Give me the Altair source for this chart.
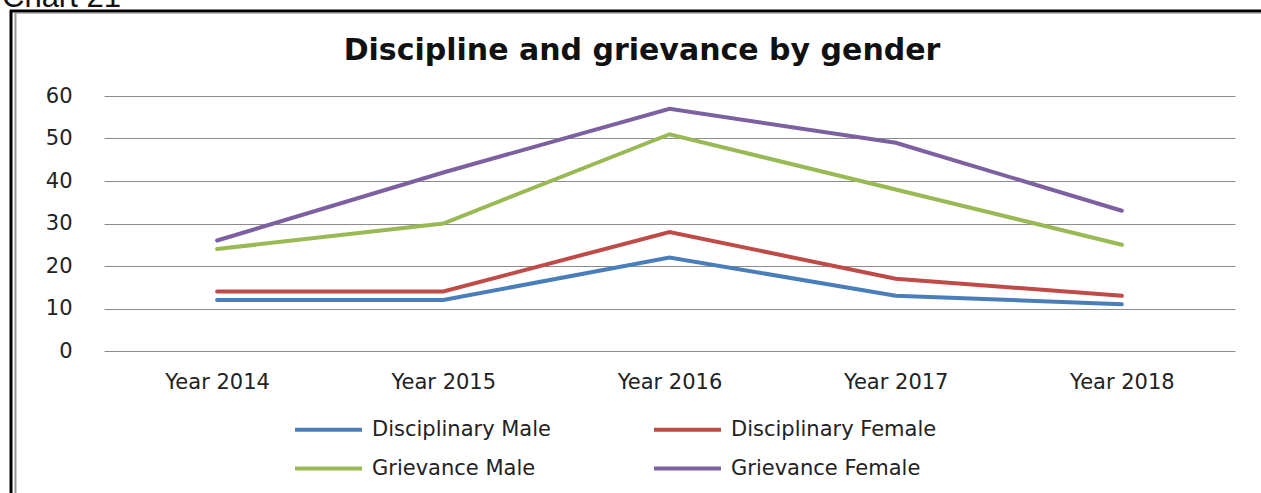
import altair as alt
import pandas as pd

years = ["Year 2014", "Year 2015", "Year 2016", "Year 2017", "Year 2018"]
series_names = ["Disciplinary Male", "Disciplinary Female", "Grievance Male", "Grievance Female"]
disciplinary_male = [12, 12, 22, 13, 11]
disciplinary_female = [14, 14, 28, 17, 13]
grievance_male = [24, 30, 51, 38, 25]
grievance_female = [26, 42, 57, 49, 33]
colors = ["#4A7EBB", "#BE4B48", "#98B954", "#7D60A0"]
y_ticks = [0, 10, 20, 30, 40, 50, 60]

rows = []
for name, vals in zip(series_names, [disciplinary_male, disciplinary_female, grievance_male, grievance_female]):
    for yr, v in zip(years, vals):
        rows.append({"year": yr, "value": v, "series": name})
df = pd.DataFrame(rows)

W, H = 1131, 255
PL, PT, PR, PB = 104, 96, 26, 142
FONT = "DejaVu Sans"
FS = 21

lines = alt.Chart(df).mark_line(strokeWidth=4, strokeCap="round").encode(
    x=alt.X("year:N", sort=years, scale=alt.Scale(type="point", padding=0.5),
            axis=alt.Axis(title=None, labelFont=FONT, labelFontSize=FS, labelColor="#222222",
                          labelPadding=20, domain=False, ticks=False, grid=False, labelAngle=0)),
    y=alt.Y("value:Q", scale=alt.Scale(domain=[0, 60], nice=False),
            axis=alt.Axis(title=None, values=y_ticks, labelFont=FONT, labelFontSize=FS,
                          labelColor="#222222", labelPadding=32, domain=False, ticks=False,
                          grid=True, gridColor="#8c8c8c", gridWidth=1)),
    color=alt.Color("series:N", sort=series_names,
                    scale=alt.Scale(domain=series_names, range=colors),
                    legend=alt.Legend(title=None, orient="none", legendX=211, legendY=320,
                                      columns=2, direction="horizontal",
                                      symbolType="M-3,0H3", symbolStrokeWidth=4, symbolSize=498,
                                      labelFont=FONT, labelFontSize=FS, labelColor="#222222",
                                      labelOffset=30, columnPadding=95, rowPadding=15,
                                      labelLimit=400)),
    detail="series:N",
)

one = alt.Data(values=[{"k": 1}])

title = alt.Chart(one).mark_text(text="Discipline and grievance by gender", font=FONT,
                                 fontWeight="bold", fontSize=30, color="#111111",
                                 align="center", baseline="alphabetic").encode(
    x=alt.value(538), y=alt.value(-36))

corner = alt.Chart(one).mark_text(text="Chart 21", font="Liberation Sans", fontSize=31,
                                  color="#111111", align="left", baseline="alphabetic").encode(
    x=alt.value(-102), y=alt.value(-89))

top_line = alt.Chart(one).mark_rule(color="#000000", strokeWidth=3).encode(
    x=alt.value(-94), x2=alt.value(1170), y=alt.value(-85))
top_shadow = alt.Chart(one).mark_rule(color="#bbbbbb", strokeWidth=1).encode(
    x=alt.value(-90), x2=alt.value(1170), y=alt.value(-82.5))
left_line = alt.Chart(one).mark_rule(color="#000000", strokeWidth=3).encode(
    x=alt.value(-93), y=alt.value(-86), y2=alt.value(400))
left_inner = alt.Chart(one).mark_rule(color="#999999", strokeWidth=2).encode(
    x=alt.value(-88.5), y=alt.value(-83), y2=alt.value(400))

chart = alt.layer(lines, title, corner, top_line, top_shadow, left_line, left_inner).properties(
    width=W, height=H,
    autosize=alt.AutoSizeParams(type="none"),
    padding={"left": PL, "top": PT, "right": PR, "bottom": PB},
    background="white",
).configure_view(stroke=None)

chart.save("out.html", embed_options={"renderer": "svg", "actions": False})
